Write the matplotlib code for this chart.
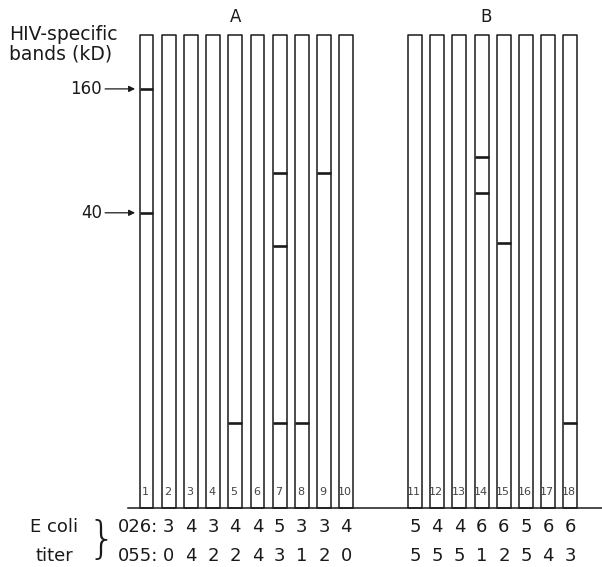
import matplotlib
matplotlib.use("Agg")
import matplotlib.pyplot as plt
from matplotlib.patches import Rectangle

# lanes 1-10 = group A, 11-18 = group B
lanes = list(range(1, 19))

# HIV-specific bands: lane number and migration distance (% of lane length from top)
band_lane = [1, 1, 5, 7, 7, 7, 8, 9, 14, 14, 15, 18]
band_pos = [11.4, 37.6, 82.0, 29.2, 44.6, 82.0, 82.0, 29.2, 25.8, 33.4, 44.0, 82.0]

# molecular weight markers
marker_kd = ["160", "40"]
marker_pos = [11.4, 37.6]

# E coli titers per lane (lane 1 has none)
titer_026 = [None, 3, 4, 3, 4, 4, 5, 3, 3, 4, 5, 4, 4, 6, 6, 5, 6, 6]
titer_055 = [None, 0, 4, 2, 2, 4, 3, 1, 2, 0, 5, 5, 5, 1, 2, 5, 4, 3]

lw = 1.1
ink = "#1a1a1a"
lane_w = 0.63
gap_b = 2.1


def lane_x(n):
    return n + (gap_b if n > 10 else 0)


fig = plt.figure(figsize=(6.02, 5.67), dpi=100)
ax = fig.add_axes([0, 0, 1, 1])
ax.set_xlim(-5.60, 21.52)
ax.set_ylim(112.5, -7.4)
ax.axis("off")

# lanes
for n in lanes:
    x = lane_x(n)
    ax.add_patch(Rectangle((x - lane_w / 2, 0), lane_w, 100, fill=False,
                           edgecolor=ink, lw=lw, joinstyle="round"))
    ax.text(x - 0.05, 96.6, str(n), ha="center", va="center", fontsize=8, color="#444444")

# bands
for n, p in zip(band_lane, band_pos):
    x = lane_x(n)
    ax.plot([x - lane_w / 2, x + lane_w / 2], [p, p], color=ink, lw=1.9, solid_capstyle="butt")

# baseline
ax.plot([0.17, 21.52], [100, 100], color=ink, lw=lw)

# markers
left1 = lane_x(1) - lane_w / 2
for kd, p in zip(marker_kd, marker_pos):
    ax.annotate("", xy=(left1 - 0.2, p), xytext=(left1 - 1.55, p),
                arrowprops=dict(arrowstyle="-|>", color=ink, lw=0.9,
                                mutation_scale=9, shrinkA=0, shrinkB=0))
    ax.text(left1 - 1.7, p, kd, ha="right", va="center", fontsize=12, color=ink)

ax.text(-5.18, -2.1, "HIV-specific\nbands (kD)", ha="left", va="top",
        fontsize=13.5, color=ink, linespacing=1.0)
ax.text(5.03, -3.8, "A", ha="center", va="center", fontsize=12, color=ink)
ax.text(16.29, -3.8, "B", ha="center", va="center", fontsize=12, color=ink)

# titer rows
row1, row2 = 104.0, 110.1
ax.text(-4.25, row1, "E coli", ha="left", va="center", fontsize=13, color=ink)
ax.text(-3.98, row2, "titer", ha="left", va="center", fontsize=13, color=ink)
ax.text(-1.0, 106.8, "}", ha="center", va="center", fontsize=32,
        fontweight="light", color=ink)
ax.text(-0.28, row1, "026:", ha="left", va="center", fontsize=13, color=ink)
ax.text(-0.28, row2, "055:", ha="left", va="center", fontsize=13, color=ink)
for n, a, b in zip(lanes, titer_026, titer_055):
    if a is None:
        continue
    ax.text(lane_x(n), row1, str(a), ha="center", va="center", fontsize=13, color=ink)
    ax.text(lane_x(n), row2, str(b), ha="center", va="center", fontsize=13, color=ink)

fig.savefig("out.png", dpi=100, facecolor="white")
